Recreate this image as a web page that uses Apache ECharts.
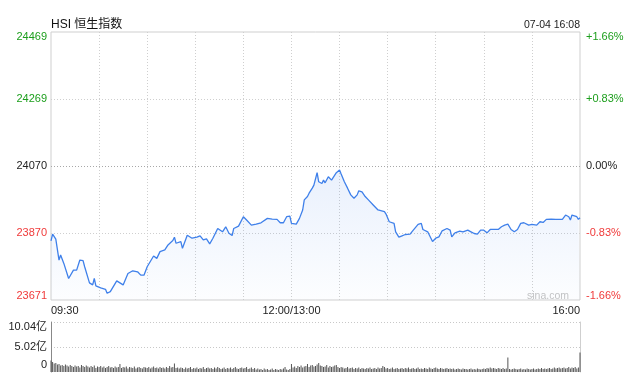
<!DOCTYPE html>
<html><head><meta charset="utf-8">
<script src="https://cdn.jsdelivr.net/npm/echarts@6/dist/echarts.min.js"></script>
<style>html,body{margin:0;padding:0;background:#fff}#c{width:640px;height:376px}</style>
</head><body><div id="c"></div>
<script>
// ---- data ----
const titleText = 'HSI 恒生指数';
const dateText = '07-04 16:08';
const prevClose = 24070;
const axisHalfRange = 399;
const leftTickLabels = ['23671', '23870', '24070', '24269', '24469'];
const rightTickLabels = ['-1.66%', '-0.83%', '0.00%', '+0.83%', '+1.66%'];
const volTickLabels = ['0', '5.02亿', '10.04亿'];
const timeTickMinutes = [0, 150, 330];
const timeTickLabels = ['09:30', '12:00/13:00', '16:00'];

const minutes = [0,1,3,5,6,8,11,14,16,18,20,21,24,26,27,28,31,34,35,37,41,43,45,48,51,54,56,58,60,64,66,68,71,73,76,77,78,81,82,85,88,91,93,95,97,99,101,104,107,109,111,113,114,117,120,122,125,128,131,135,138,141,143,145,147,149,150,153,155,157,158,160,161,163,164,166,167,169,170,171,173,175,176,178,180,181,183,185,187,189,191,192,194,196,198,201,204,208,209,211,214,215,217,219,221,224,226,229,231,232,235,237,238,240,242,244,247,249,250,252,255,257,260,262,264,266,268,270,272,274,276,279,281,283,285,287,289,291,293,295,298,300,301,303,305,307,309,312,315,319,321,323,324,325,328,329,330];
const prices = [23847,23867,23852,23790,23805,23780,23735,23760,23760,23790,23788,23770,23722,23716,23735,23713,23707,23703,23691,23696,23728,23722,23716,23750,23758,23755,23745,23745,23770,23802,23795,23815,23820,23835,23848,23858,23840,23845,23825,23864,23855,23858,23862,23850,23853,23838,23855,23884,23874,23889,23870,23863,23884,23891,23919,23909,23894,23897,23901,23914,23912,23911,23901,23901,23919,23921,23899,23897,23914,23939,23969,23979,23989,24004,24013,24050,24023,24018,24028,24020,24038,24028,24030,24050,24058,24046,24023,24004,23984,23974,23984,23996,23993,23979,23969,23954,23939,23934,23927,23904,23899,23874,23858,23862,23866,23867,23879,23896,23899,23881,23874,23855,23845,23855,23859,23877,23884,23879,23859,23871,23876,23874,23879,23874,23869,23867,23879,23879,23871,23881,23881,23881,23889,23894,23897,23881,23874,23881,23899,23901,23894,23896,23901,23894,23904,23902,23911,23912,23911,23911,23924,23919,23909,23924,23919,23911,23916];

// volume per minute, in 亿
const volumes = [
2.3,2.0,1.7,1.8,1.5,1.6,1.3,1.4,1.2,1.5,
1.3,1.1,1.4,1.2,1.0,1.3,1.1,1.2,0.9,1.4,
1.2,1.0,1.3,1.1,0.9,1.2,1.0,1.3,0.8,1.1,
1.0,1.2,0.9,1.1,0.8,1.0,1.2,0.9,1.0,0.8,
1.1,0.9,1.0,1.6,0.8,1.0,0.9,1.1,0.7,1.0,
0.9,0.8,1.1,0.7,0.9,1.0,0.8,0.7,1.0,0.9,
0.8,1.0,0.7,0.9,1.1,0.8,0.9,0.7,1.0,0.8,
0.9,0.7,1.0,0.8,1.2,0.9,1.0,1.7,0.8,0.9,
0.7,0.9,0.8,0.6,0.9,0.7,0.8,1.0,0.6,0.8,
0.7,0.9,0.6,0.8,0.7,1.0,0.6,0.8,0.9,0.7,
0.8,0.6,0.9,0.7,1.0,0.8,0.6,0.7,0.9,0.6,
0.8,0.7,0.9,0.6,0.8,1.0,0.7,0.6,0.8,0.9,
0.7,0.8,1.0,0.6,0.7,0.9,0.6,0.8,0.5,0.7,
0.5,0.6,0.4,0.7,0.5,0.6,0.4,0.5,0.7,0.4,
0.6,0.5,0.4,0.6,0.5,0.7,1.0,0.5,0.4,0.6,
1.6,0.9,1.1,0.8,1.2,1.0,1.3,0.9,1.1,1.2,
1.6,1.0,1.3,1.4,1.1,1.2,1.5,1.8,1.3,1.2,
1.0,1.1,1.4,0.9,1.2,1.0,1.1,1.3,1.4,1.0,
0.8,1.0,0.9,0.7,0.8,1.0,0.7,0.8,0.9,0.6,
0.8,0.7,0.9,0.6,0.8,0.7,0.6,0.8,0.7,0.9,
0.6,0.7,0.8,0.6,0.9,0.7,0.8,1.2,1.0,0.7,
0.8,0.6,0.7,0.9,0.6,0.7,0.8,0.6,0.7,0.8,
0.6,0.8,0.7,0.9,0.6,0.7,0.8,0.6,0.7,0.9,
0.6,0.7,0.6,0.8,0.7,0.6,0.9,0.7,0.6,0.8,
0.9,0.7,0.6,0.8,0.7,0.6,0.7,0.8,0.6,0.7,
0.6,0.7,0.5,0.6,0.7,0.6,0.5,0.7,0.6,0.6,
0.5,0.6,0.7,0.5,0.6,0.5,0.7,0.6,0.5,0.6,
0.7,0.6,0.8,0.7,0.9,0.7,0.8,0.7,0.6,0.8,
0.7,0.6,0.8,0.6,0.7,2.9,0.6,0.5,0.6,0.7,
0.6,0.5,0.6,0.7,0.5,0.6,0.5,0.7,0.6,0.5,
0.6,0.7,0.5,0.6,0.7,0.6,0.8,0.6,0.7,0.6,
0.7,0.8,0.6,0.7,0.9,0.7,0.8,0.9,0.7,0.8,
0.9,0.7,0.8,1.0,0.7,0.9,0.8,1.0,0.7,0.9,
3.9
];
const volMax = 10.04;

// ---- chart ----
const FONT = '"Liberation Sans", Arial, "Noto Sans CJK SC", sans-serif';
const GREEN = '#1c9e1c', RED = '#f03a3a', DARK = '#222';
const chart = echarts.init(document.getElementById('c'), null, {renderer: 'canvas'});

const lineData = minutes.map((m, i) => [m, prices[i] - prevClose]);
const volData = volumes.map((v, i) => [i, v]);

function rich(color) {
  return {
    t: {color, fontSize: 11, fontFamily: FONT, padding: [10, 0, 0, 0]},
    m: {color, fontSize: 11, fontFamily: FONT},
    b: {color, fontSize: 11, fontFamily: FONT, padding: [0, 0, 9, 0]}
  };
}
const tickColors = [RED, RED, DARK, GREEN, GREEN];
const richAll = {
  gt: {color: GREEN, fontSize: 11, fontFamily: FONT, padding: [10, 0, 0, 0]},
  g: {color: GREEN, fontSize: 11, fontFamily: FONT},
  k: {color: DARK, fontSize: 11, fontFamily: FONT},
  r: {color: RED, fontSize: 11, fontFamily: FONT},
  rb: {color: RED, fontSize: 11, fontFamily: FONT, padding: [0, 0, 9, 0]},
  vt: {color: DARK, fontSize: 11, fontFamily: FONT, padding: [10, 0, 0, 0]},
  v: {color: DARK, fontSize: 11, fontFamily: FONT},
  vb: {color: DARK, fontSize: 11, fontFamily: FONT, padding: [0, 0, 14, 0]}
};
const keys = ['rb', 'r', 'k', 'g', 'gt'];

const option = {
  animation: false,
  backgroundColor: '#fff',
  textStyle: {fontFamily: FONT},
  title: [
    {text: titleText, left: 51, top: 18.5, padding: 0,
     textStyle: {fontSize: 12, fontWeight: 'normal', color: '#111', fontFamily: FONT}},
    {text: dateText, right: 60, top: 19.5, padding: 0,
     textStyle: {fontSize: 10.5, fontWeight: 'normal', color: '#222', fontFamily: FONT}}
  ],
  graphic: [
    {type: 'text', right: 71, top: 290.5, silent: true,
     style: {text: 'sina.com', fill: '#c4c4c4', font: '10.5px ' + FONT}}
  ],
  grid: [
    {left: 51, right: 60, top: 32, height: 268, show: true, borderColor: '#cfcfcf', borderWidth: 1},
    {left: 51, right: 60, top: 322, height: 50}
  ],
  xAxis: [
    {type: 'value', gridIndex: 0, min: 0, max: 330, interval: 30,
     axisLine: {show: false}, axisTick: {show: false},
     splitLine: {show: true, lineStyle: {color: ['transparent', '#cfcfcf', '#cfcfcf', '#cfcfcf', '#cfcfcf', '#cfcfcf', '#cfcfcf', '#cfcfcf', '#cfcfcf', '#cfcfcf', '#cfcfcf', 'transparent'], type: [1, 2], width: 1}},
     axisLabel: {show: true, margin: 5, fontSize: 11, color: '#222', fontFamily: FONT,
       showMinLabel: true, showMaxLabel: true, alignMinLabel: 'left', alignMaxLabel: 'right',
       formatter: (v) => { const k = timeTickMinutes.indexOf(v); return k >= 0 ? timeTickLabels[k] : ''; }}},
    {type: 'value', gridIndex: 1, min: 0, max: 330, show: false}
  ],
  yAxis: [
    {type: 'value', gridIndex: 0, min: -axisHalfRange, max: axisHalfRange, interval: axisHalfRange / 2,
     position: 'left', axisLine: {show: false}, axisTick: {show: false},
     splitLine: {show: true, lineStyle: {color: ['transparent', '#cfcfcf', '#a8a8a8', '#cfcfcf', 'transparent'], type: [1, 2]}},
     axisLabel: {margin: 4, fontSize: 11, fontFamily: FONT, rich: richAll,
       formatter: (v, i) => '{' + keys[i] + '|' + leftTickLabels[i] + '}'}},
    {type: 'value', gridIndex: 0, min: -axisHalfRange, max: axisHalfRange, interval: axisHalfRange / 2,
     position: 'right', axisLine: {show: false}, axisTick: {show: false}, splitLine: {show: false},
     axisLabel: {margin: 6, fontSize: 11, fontFamily: FONT, rich: richAll,
       formatter: (v, i) => '{' + keys[i] + '|' + rightTickLabels[i] + '}'}},
    {type: 'value', gridIndex: 1, min: 0, max: volMax, interval: volMax / 2, position: 'left',
     axisLine: {show: true, lineStyle: {color: '#888', width: 1}}, axisTick: {show: false},
     splitLine: {show: true, lineStyle: {color: ['transparent', '#c8c8c8', '#c8c8c8'], type: [1, 2]}},
     axisLabel: {margin: 4, fontSize: 11, fontFamily: FONT, rich: richAll,
       formatter: (v, i) => '{' + ['vb', 'v', 'vt'][i] + '|' + volTickLabels[i] + '}'}},
    {type: 'value', gridIndex: 1, min: 0, max: volMax, interval: volMax / 2, position: 'right',
     axisLine: {show: true, lineStyle: {color: '#cfcfcf', width: 1}}, axisTick: {show: false},
     splitLine: {show: false}, axisLabel: {show: false}}
  ],
  series: [
    {type: 'line', xAxisIndex: 0, yAxisIndex: 0, data: lineData, showSymbol: false, symbol: 'none',
     lineStyle: {color: '#3f80ea', width: 1.3}, silent: true,
     areaStyle: {origin: 'start', color: new echarts.graphic.LinearGradient(0, 0, 0, 1, [
       {offset: 0, color: 'rgba(64,128,234,0.16)'},
       {offset: 1, color: 'rgba(64,128,234,0.02)'}
     ])}},
    {type: 'bar', xAxisIndex: 1, yAxisIndex: 2, data: volData, barWidth: 1,
     itemStyle: {color: '#555'}, silent: true}
  ]
};
chart.setOption(option);
</script>
</body></html>
